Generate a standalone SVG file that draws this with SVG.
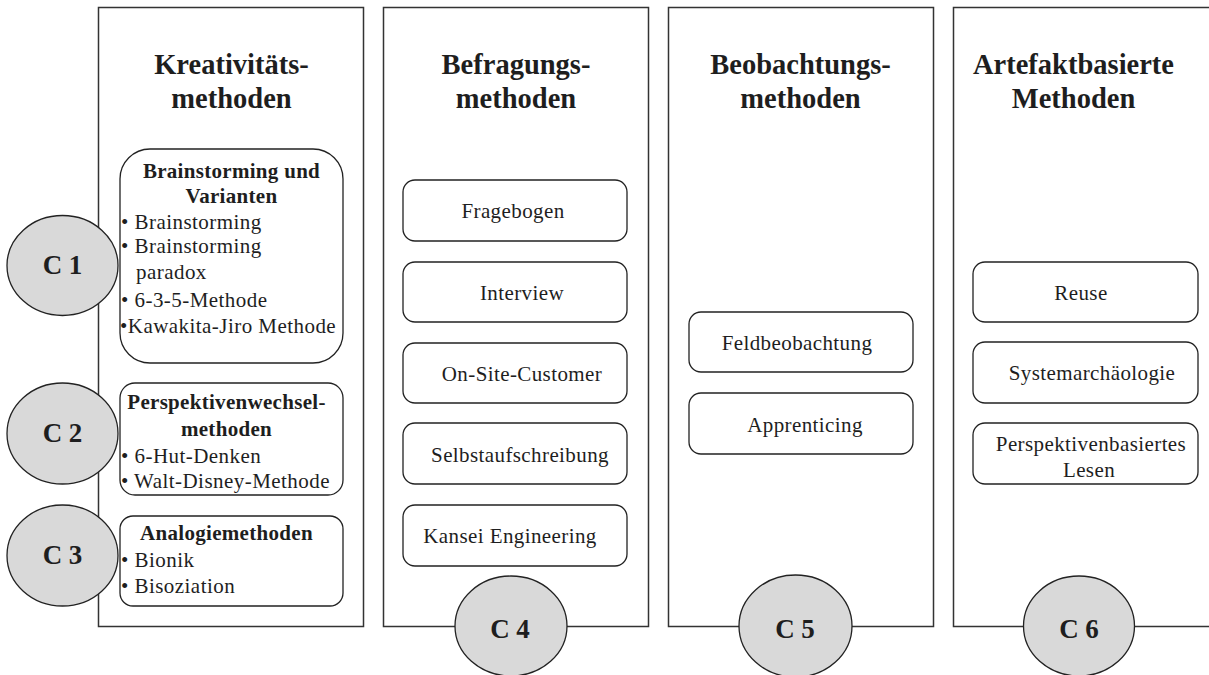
<svg xmlns="http://www.w3.org/2000/svg" width="1209" height="675" viewBox="0 0 1209 675">
  <style>
    .panel { fill: #ffffff; stroke: #333333; stroke-width: 1.5; }
    .box { fill: #ffffff; stroke: #222222; stroke-width: 1.3; }
    .badge { fill: #d9d9d9; stroke: #222222; stroke-width: 1.3; }
    text { font-family: "Liberation Serif", "Times New Roman", serif; fill: #1e1e1e; }
    .title { font-size: 28.5px; font-weight: bold; text-anchor: middle; }
    .head { font-size: 21px; font-weight: bold; text-anchor: middle; letter-spacing: 0.3px; }
    .item { font-size: 21px; letter-spacing: 0.45px; }
    .label { font-size: 21px; text-anchor: middle; letter-spacing: 0.4px; }
    .badge-text { font-size: 27px; font-weight: bold; text-anchor: middle; }
  </style>
  <rect width="1209" height="675" fill="#ffffff"/>

  <!-- Column frames -->
  <g id="col-kreativitaet">
    <rect class="panel" x="98.5" y="7.5" width="265" height="619"/>
    <text class="title" x="231.5" y="74">Kreativitäts-</text>
    <text class="title" x="231.5" y="108">methoden</text>
  </g>
  <g id="col-befragung">
    <rect class="panel" x="383.5" y="7.5" width="265" height="619"/>
    <text class="title" x="516" y="74">Befragungs-</text>
    <text class="title" x="516" y="108">methoden</text>
  </g>
  <g id="col-beobachtung">
    <rect class="panel" x="668.5" y="7.5" width="265" height="619"/>
    <text class="title" x="800.5" y="74">Beobachtungs-</text>
    <text class="title" x="800.5" y="108">methoden</text>
  </g>
  <g id="col-artefakt">
    <path class="panel" d="M1209 7.5 H953.5 V626.5 H1209" fill="none"/>
    <text class="title" x="1073.5" y="74">Artefaktbasierte</text>
    <text class="title" x="1073.5" y="108">Methoden</text>
  </g>

  <!-- Creativity method groups -->
  <g id="brainstorming">
    <rect class="box" x="120" y="149" width="223" height="214" rx="30" ry="30"/>
    <text class="head" x="231.5" y="178">Brainstorming und</text>
    <text class="head" x="231.5" y="203">Varianten</text>
    <text class="item" x="121" y="229">• Brainstorming</text>
    <text class="item" x="121" y="253">• Brainstorming</text>
    <text class="item" x="136" y="279">paradox</text>
    <text class="item" x="121" y="307">• 6-3-5-Methode</text>
    <text class="item" x="120" y="333">•Kawakita-Jiro Methode</text>
  </g>
  <g id="perspektivenwechsel">
    <rect class="box" x="120" y="383" width="223" height="112" rx="15" ry="15"/>
    <text class="head" x="226.5" y="409">Perspektivenwechsel-</text>
    <text class="head" x="226.5" y="436">methoden</text>
    <text class="item" x="121" y="463">• 6-Hut-Denken</text>
    <text class="item" x="121" y="488">• Walt-Disney-Methode</text>
  </g>
  <g id="analogie">
    <rect class="box" x="120" y="516" width="223" height="90" rx="13" ry="13"/>
    <text class="head" x="226.5" y="540">Analogiemethoden</text>
    <text class="item" x="121" y="567">• Bionik</text>
    <text class="item" x="121" y="593">• Bisoziation</text>
  </g>

  <!-- Survey methods -->
  <g id="fragebogen">
    <rect class="box" x="403" y="180" width="224" height="61" rx="12" ry="12"/>
    <text class="label" x="513" y="218">Fragebogen</text>
  </g>
  <g id="interview">
    <rect class="box" x="403" y="262" width="224" height="60" rx="12" ry="12"/>
    <text class="label" x="522" y="300">Interview</text>
  </g>
  <g id="on-site-customer">
    <rect class="box" x="403" y="343" width="224" height="60" rx="12" ry="12"/>
    <text class="label" x="522" y="381">On-Site-Customer</text>
  </g>
  <g id="selbstaufschreibung">
    <rect class="box" x="403" y="423" width="224" height="61" rx="12" ry="12"/>
    <text class="label" x="520" y="462">Selbstaufschreibung</text>
  </g>
  <g id="kansei">
    <rect class="box" x="403" y="505" width="224" height="61" rx="12" ry="12"/>
    <text class="label" x="510" y="543">Kansei Engineering</text>
  </g>

  <!-- Observation methods -->
  <g id="feldbeobachtung">
    <rect class="box" x="689" y="312" width="224" height="60" rx="12" ry="12"/>
    <text class="label" x="797" y="350">Feldbeobachtung</text>
  </g>
  <g id="apprenticing">
    <rect class="box" x="689" y="393" width="224" height="61" rx="12" ry="12"/>
    <text class="label" x="805" y="432">Apprenticing</text>
  </g>

  <!-- Artefact-based methods -->
  <g id="reuse">
    <rect class="box" x="973" y="262" width="225" height="60" rx="12" ry="12"/>
    <text class="label" x="1081" y="300">Reuse</text>
  </g>
  <g id="systemarchaeologie">
    <rect class="box" x="973" y="342" width="225" height="61" rx="12" ry="12"/>
    <text class="label" x="1092" y="380">Systemarchäologie</text>
  </g>
  <g id="perspektivenbasiert">
    <rect class="box" x="973" y="423" width="225" height="61" rx="12" ry="12"/>
    <text class="label" x="1091" y="451">Perspektivenbasiertes</text>
    <text class="label" x="1089" y="477">Lesen</text>
  </g>

  <!-- Category badges -->
  <g id="c1">
    <ellipse class="badge" cx="62.5" cy="265.5" rx="55.5" ry="50"/>
    <text class="badge-text" x="62.5" y="274">C 1</text>
  </g>
  <g id="c2">
    <ellipse class="badge" cx="62.5" cy="433.5" rx="55.5" ry="50.5"/>
    <text class="badge-text" x="62.5" y="442">C 2</text>
  </g>
  <g id="c3">
    <ellipse class="badge" cx="62.5" cy="555.5" rx="55.5" ry="50.5"/>
    <text class="badge-text" x="62.5" y="564">C 3</text>
  </g>
  <g id="c4">
    <ellipse class="badge" cx="511" cy="626" rx="56" ry="50"/>
    <text class="badge-text" x="510" y="638">C 4</text>
  </g>
  <g id="c5">
    <ellipse class="badge" cx="795.5" cy="626" rx="56.5" ry="51"/>
    <text class="badge-text" x="795" y="638">C 5</text>
  </g>
  <g id="c6">
    <ellipse class="badge" cx="1079" cy="626" rx="55.5" ry="50"/>
    <text class="badge-text" x="1079" y="638">C 6</text>
  </g>
</svg>
